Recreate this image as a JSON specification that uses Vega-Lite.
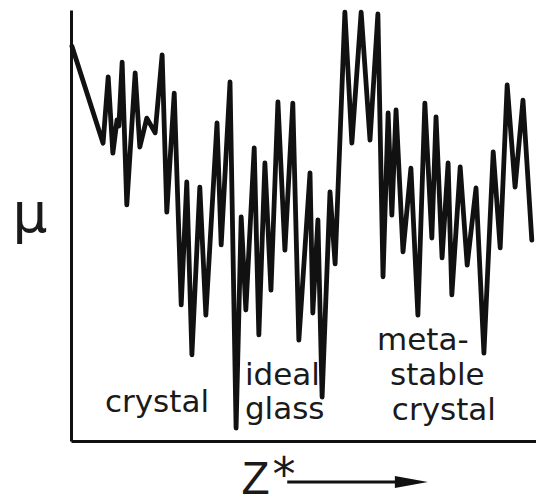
{
  "$schema": "https://vega.github.io/schema/vega-lite/v6.json",
  "width": 465,
  "height": 431,
  "autosize": {"type": "none"},
  "padding": {"left": 71, "top": 10, "right": 0, "bottom": 63},
  "background": "white",
  "data": {"values": [{}]},
  "config": {
    "view": {"stroke": null},
    "axis": {
      "domain": true,
      "domainColor": "#111111",
      "domainWidth": 3,
      "ticks": false,
      "labels": false,
      "grid": false,
      "title": null
    }
  },
  "layer": [
    {
      "data": {
        "values": [
          {"z": 0.2, "mu": 91.6},
          {"z": 6.9, "mu": 69.1},
          {"z": 8.0, "mu": 84.5},
          {"z": 9.0, "mu": 66.8},
          {"z": 9.9, "mu": 74.5},
          {"z": 10.3, "mu": 73.1},
          {"z": 11.0, "mu": 87.9},
          {"z": 12.0, "mu": 54.8},
          {"z": 13.8, "mu": 85.4},
          {"z": 14.8, "mu": 68.2},
          {"z": 16.3, "mu": 74.9},
          {"z": 18.1, "mu": 71.5},
          {"z": 19.6, "mu": 89.6},
          {"z": 20.6, "mu": 53.1},
          {"z": 22.2, "mu": 80.7},
          {"z": 23.7, "mu": 31.6},
          {"z": 24.9, "mu": 60.1},
          {"z": 26.0, "mu": 20.0},
          {"z": 27.7, "mu": 58.9},
          {"z": 29.0, "mu": 29.2},
          {"z": 31.4, "mu": 73.8},
          {"z": 32.3, "mu": 45.5},
          {"z": 34.2, "mu": 83.3},
          {"z": 35.5, "mu": 3.0},
          {"z": 36.6, "mu": 52.0},
          {"z": 37.6, "mu": 30.4},
          {"z": 39.4, "mu": 68.0},
          {"z": 40.4, "mu": 24.6},
          {"z": 41.7, "mu": 64.5},
          {"z": 43.0, "mu": 35.0},
          {"z": 44.5, "mu": 78.7},
          {"z": 46.0, "mu": 44.3},
          {"z": 47.7, "mu": 78.4},
          {"z": 49.0, "mu": 23.4},
          {"z": 51.4, "mu": 62.2},
          {"z": 52.0, "mu": 29.7},
          {"z": 53.1, "mu": 51.3},
          {"z": 54.0, "mu": 10.2},
          {"z": 55.7, "mu": 57.8},
          {"z": 56.8, "mu": 41.1},
          {"z": 58.9, "mu": 99.5},
          {"z": 60.4, "mu": 69.1},
          {"z": 62.4, "mu": 99.5},
          {"z": 64.3, "mu": 69.8},
          {"z": 66.0, "mu": 99.1},
          {"z": 67.1, "mu": 38.1},
          {"z": 68.2, "mu": 76.1},
          {"z": 69.0, "mu": 52.4},
          {"z": 69.9, "mu": 76.8},
          {"z": 71.4, "mu": 43.9},
          {"z": 73.1, "mu": 63.3},
          {"z": 74.6, "mu": 29.2},
          {"z": 76.1, "mu": 78.4},
          {"z": 77.6, "mu": 47.1},
          {"z": 78.5, "mu": 75.2},
          {"z": 79.8, "mu": 42.5},
          {"z": 81.1, "mu": 64.5},
          {"z": 81.9, "mu": 33.9},
          {"z": 83.7, "mu": 63.6},
          {"z": 85.2, "mu": 40.8},
          {"z": 87.1, "mu": 58.7},
          {"z": 88.8, "mu": 20.4},
          {"z": 90.8, "mu": 67.1},
          {"z": 92.3, "mu": 44.8},
          {"z": 93.8, "mu": 82.6},
          {"z": 95.5, "mu": 58.9},
          {"z": 97.2, "mu": 79.1},
          {"z": 99.1, "mu": 46.6}
        ]
      },
      "mark": {
        "type": "line",
        "color": "#111111",
        "strokeWidth": 4.8,
        "strokeJoin": "round",
        "strokeCap": "round"
      },
      "encoding": {
        "x": {
          "field": "z",
          "type": "quantitative",
          "scale": {"domain": [0, 100], "nice": false, "zero": false}
        },
        "y": {
          "field": "mu",
          "type": "quantitative",
          "scale": {"domain": [0, 100], "nice": false, "zero": false}
        }
      }
    },
    {
      "data": {
        "values": [
          {"z": 7.3, "mu": 6.7, "label": "crystal"},
          {"z": 37.4, "mu": 13.0, "label": "ideal"},
          {"z": 37.4, "mu": 5.1, "label": "glass"},
          {"z": 65.8, "mu": 21.1, "label": "meta-"},
          {"z": 68.6, "mu": 13.0, "label": "stable"},
          {"z": 69.0, "mu": 4.9, "label": "crystal"}
        ]
      },
      "mark": {
        "type": "text",
        "align": "left",
        "baseline": "alphabetic",
        "font": "DejaVu Sans",
        "fontSize": 31,
        "color": "#1a1a1a"
      },
      "encoding": {
        "x": {"field": "z", "type": "quantitative"},
        "y": {"field": "mu", "type": "quantitative"},
        "text": {"field": "label"}
      }
    },
    {
      "mark": {
        "type": "text",
        "align": "center",
        "baseline": "alphabetic",
        "font": "DejaVu Sans",
        "fontSize": 55,
        "color": "#1a1a1a",
        "text": "μ"
      },
      "encoding": {
        "x": {"datum": -8.8, "type": "quantitative"},
        "y": {"datum": 48.5, "type": "quantitative"}
      }
    },
    {
      "mark": {
        "type": "text",
        "align": "center",
        "baseline": "alphabetic",
        "font": "Liberation Sans",
        "fontSize": 46,
        "color": "#1a1a1a",
        "text": "Z"
      },
      "encoding": {
        "x": {"datum": 39.7, "type": "quantitative"},
        "y": {"datum": -12.3, "type": "quantitative"}
      }
    },
    {
      "mark": {
        "type": "text",
        "align": "center",
        "baseline": "alphabetic",
        "font": "DejaVu Sans",
        "fontSize": 46,
        "color": "#1a1a1a",
        "text": "*"
      },
      "encoding": {
        "x": {"datum": 45.8, "type": "quantitative"},
        "y": {"datum": -11.4, "type": "quantitative"}
      }
    },
    {
      "mark": {"type": "rule", "color": "#111111", "strokeWidth": 3},
      "encoding": {
        "x": {"datum": 46.5, "type": "quantitative"},
        "x2": {"datum": 70.8},
        "y": {"datum": -9.5, "type": "quantitative"}
      }
    },
    {
      "mark": {
        "type": "point",
        "shape": "M-1,-0.36L1,0L-1,0.36Z",
        "size": 1089,
        "filled": true,
        "opacity": 1,
        "color": "#111111"
      },
      "encoding": {
        "x": {"datum": 73.2, "type": "quantitative"},
        "y": {"datum": -9.5, "type": "quantitative"}
      }
    }
  ]
}
